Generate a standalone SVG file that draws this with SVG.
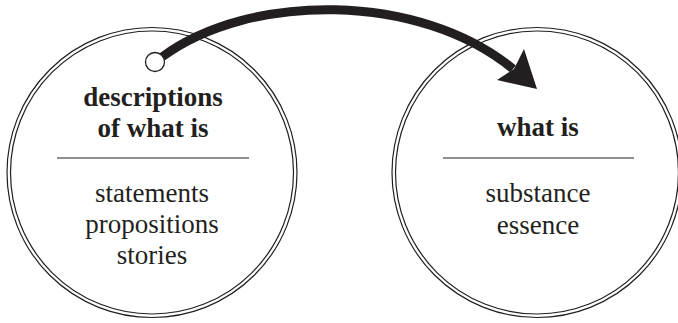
<svg xmlns="http://www.w3.org/2000/svg" width="678" height="323" viewBox="0 0 678 323">
<style>
.ring{fill:none;stroke:#231f20;stroke-width:1.2}
.rule{stroke:#231f20;stroke-width:1.2}
.t{font-family:"Liberation Serif","DejaVu Serif",serif;font-size:27px;fill:#231f20;text-anchor:middle}
.b{font-weight:bold}
</style>
<rect width="678" height="323" fill="#ffffff"/>
<g id="node-descriptions">
<circle class="ring" cx="152" cy="172.5" r="145"/>
<circle class="ring" cx="152" cy="172.5" r="141.5"/>
<text class="t b" x="153" y="106">descriptions</text>
<text class="t b" x="153" y="137">of what is</text>
<line class="rule" x1="57" y1="158" x2="249" y2="158"/>
<text class="t" x="152" y="202">statements</text>
<text class="t" x="152" y="233">propositions</text>
<text class="t" x="152" y="264">stories</text>
</g>
<g id="node-what-is">
<circle class="ring" cx="537" cy="172.5" r="145"/>
<circle class="ring" cx="537" cy="172.5" r="141.5"/>
<text class="t b" x="538" y="136">what is</text>
<line class="rule" x1="443" y1="158" x2="634" y2="158"/>
<text class="t" x="538" y="202">substance</text>
<text class="t" x="538" y="234">essence</text>
</g>
<g id="connectors">
<path d="M162,57 C250,-8 420,-8 513,69" fill="none" stroke="#231f20" stroke-width="9"/>
<polygon points="537,89 497,80 514,69 524,49" fill="#231f20"/>
<circle cx="155" cy="62" r="9.5" fill="#ffffff" stroke="#231f20" stroke-width="1.3"/>
</g>
</svg>
